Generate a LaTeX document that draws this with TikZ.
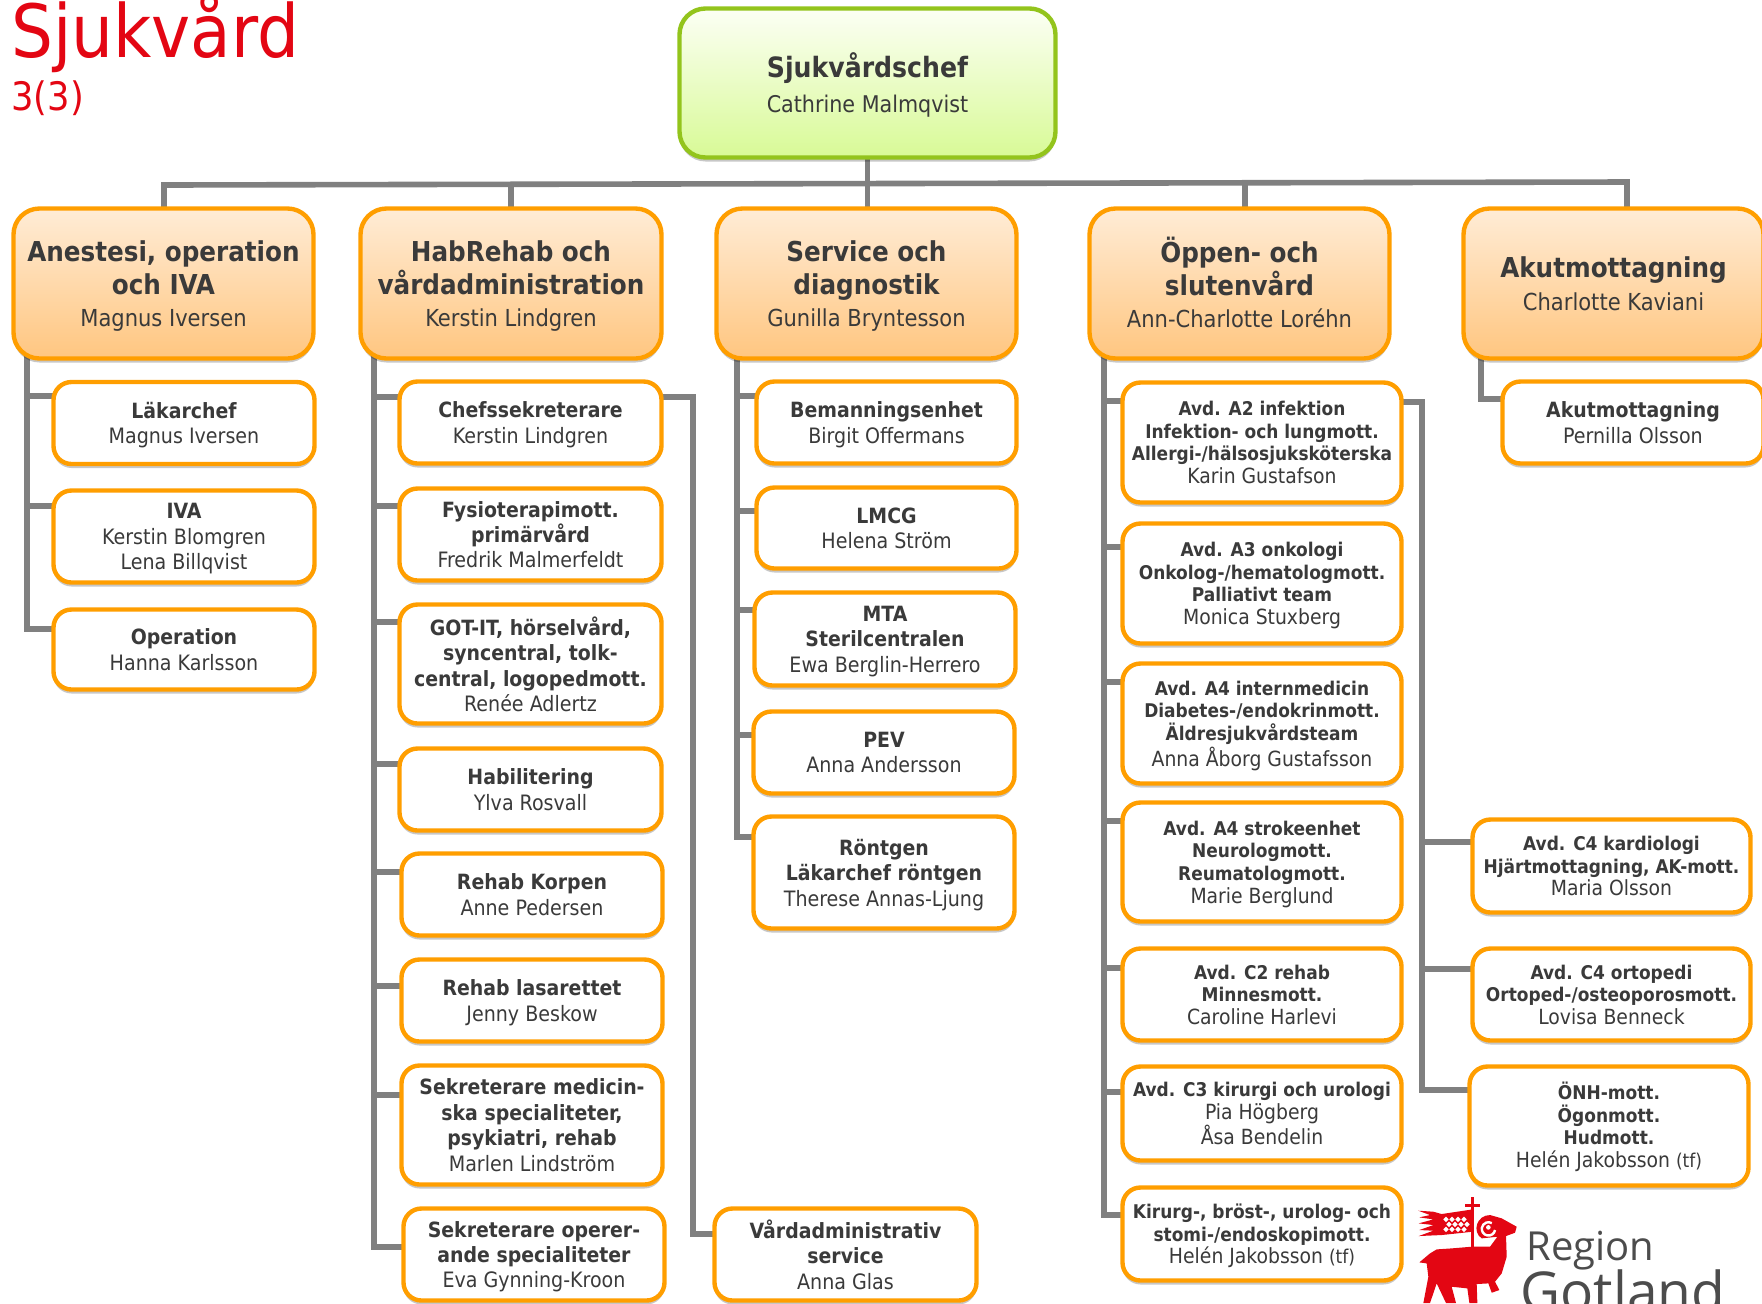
\documentclass[tikz,border=0pt]{standalone}
\usepackage{fontspec}
\usepackage{xcolor}
\setmainfont{DejaVu Sans Condensed}
\newfontfamily\logofont{Open Sans}
\usetikzlibrary{shadows,backgrounds}
\definecolor{myorange}{HTML}{FF9E00}
\definecolor{mygreen}{HTML}{93C41C}
\definecolor{mygray}{HTML}{808080}
\definecolor{mytext}{HTML}{3A3A3A}
\definecolor{myred}{HTML}{E30613}
\newcommand{\hdname}[1]{{\mdseries\fontsize{11.7}{14}\selectfont #1}}
\newcommand{\nm}[1]{{\mdseries\fontsize{10.6}{12}\selectfont #1}}
\newcommand{\sm}[1]{{\mdseries\fontsize{10.45}{12}\selectfont #1}}
\newcommand{\tf}{{\fontsize{9.5}{10}\selectfont (tf)}}

\begin{document}
\begin{tikzpicture}[
    x=0.5pt, y=-0.5pt,
    boxsize/.style 2 args={
    minimum width={(#1-3)*0.5pt},
    minimum height={(#2-3)*0.5pt}},
    myshadow/.style={
    general shadow={shadow xshift=0pt, shadow yshift=-2pt, fill=black, opacity=0.22}},
    mytop/.style={
    rounded corners=13pt,
    draw=mygreen,
    line width=2.2pt,
    top color=green!30!yellow!4,
    bottom color={rgb,255:red,216;green,250;blue,150},
    myshadow,
    align=center,
    inner sep=0pt,
    text=mytext,
    text depth=0.3pt,
    font=\fontsize{14}{17.4}\selectfont\bfseries},
    myhead/.style={
    rounded corners=13pt,
    draw=myorange,
    line width=2.2pt,
    top color={rgb,255:red,255;green,236;blue,214},
    bottom color={rgb,255:red,255;green,198;blue,128},
    myshadow,
    align=center,
    inner sep=0pt,
    text=mytext,
    text depth=-0.6pt,
    font=\fontsize{13.7}{16.8}\selectfont\bfseries},
    mysub/.style={
    rounded corners=9pt,
    draw=myorange,
    fill=white,
    line width=2.2pt,
    myshadow,
    align=center,
    inner sep=0pt,
    text=mytext,
    text depth=-0.7pt,
    font=\fontsize{10.5}{12.7}\selectfont\bfseries},
    mysmall/.style={
    mysub,
    text depth=0pt,
    font=\fontsize{9.45}{11.3}\selectfont\bfseries},
    mylink/.style={draw=mygray, line width=2.8pt}
    ]
    \clip (0,0) rectangle (1762,1303);

    \node[anchor=base west, text=myred, inner sep=0pt, font=\fontsize{36.7}{38}\selectfont] (title) at (11,57) {Sjukvård};
    \node[anchor=base west, text=myred, inner sep=0pt, font=\fontsize{19.6}{20}\selectfont] (page) at (11,110) {3(3)};

    % chief and division heads
    \node[mytop, boxsize={379}{152}] (top) at (867.5,83) {Sjukvårdschef\\\fontsize{11.5}{17.4}\selectfont\mdseries Cathrine Malmqvist};
    \node[myhead, boxsize={303}{153}] (h1) at (163.5,283.5) {Anestesi, operation\\och IVA\\[-1pt]\hdname{Magnus Iversen}};
    \node[myhead, boxsize={304}{153}] (h2) at (511,283.5) {HabRehab och\\vårdadministration\\[-1pt]\hdname{Kerstin Lindgren}};
    \node[myhead, boxsize={303}{153}] (h3) at (866.5,283.5) {Service och\\diagnostik\\[-1pt]\hdname{Gunilla Bryntesson}};
    \node[myhead, boxsize={303}{153}, text depth=1.6pt] (h4) at (1239.5,283.5) {Öppen- och\\slutenvård\\[-1pt]\hdname{Ann-Charlotte Loréhn}};
    \node[myhead, boxsize={303}{153}] (h5) at (1613.5,283.5) {Akutmottagning\\\hdname{Charlotte Kaviani}};

    \node[mysub, boxsize={264}{85}] (a1) at (184,423) {Läkarchef\\\nm{Magnus Iversen}};
    \node[mysub, boxsize={264}{95}] (a2) at (184,536.5) {IVA\\\nm{Kerstin Blomgren}\\\nm{Lena Billqvist}};
    \node[mysub, boxsize={264}{83}] (a3) at (184,649.5) {Operation\\\nm{Hanna Karlsson}};

    \node[mysub, boxsize={265}{85}] (b1) at (530.5,422.5) {Chefssekreterare\\\nm{Kerstin Lindgren}};
    \node[mysub, boxsize={265}{95}] (b2) at (530.5,534.5) {Fysioterapimott.\\primärvård\\\nm{Fredrik Malmerfeldt}};
    \node[mysub, boxsize={265}{122}] (b3) at (530.5,664) {GOT-IT, hörselvård,\\syncentral, tolk-\\central, logopedmott.\\\nm{Renée Adlertz}};
    \node[mysub, boxsize={265}{85}] (b4) at (530.5,789.5) {Habilitering\\\nm{Ylva Rosvall}};
    \node[mysub, boxsize={264}{85}] (b5) at (532,894.5) {Rehab Korpen\\\nm{Anne Pedersen}};
    \node[mysub, boxsize={264}{85}] (b6) at (532,1000.5) {Rehab lasarettet\\\nm{Jenny Beskow}};
    \node[mysub, boxsize={264}{122}] (b7) at (532,1125) {Sekreterare medicin-\\ska specialiteter,\\psykiatri, rehab\\\nm{Marlen Lindström}};
    \node[mysub, boxsize={264}{95}] (b8) at (534,1254.5) {Sekreterare operer-\\ande specialiteter\\\nm{Eva Gynning-Kroon}};
    \node[mysub, boxsize={265}{95}] (b9) at (845.5,1254.5) {Vårdadministrativ\\service\\\nm{Anna Glas}};

    \node[mysub, boxsize={263}{85}] (c1) at (886.5,422.5) {Bemanningsenhet\\\nm{Birgit Offermans}};
    \node[mysub, boxsize={263}{84}] (c2) at (886.5,528) {LMCG\\\nm{Helena Ström}};
    \node[mysub, boxsize={264}{96}] (c3) at (885,639) {MTA\\Sterilcentralen\\\nm{Ewa Berglin-Herrero}};
    \node[mysub, boxsize={264}{85}] (c4) at (884,752.5) {PEV\\\nm{Anna Andersson}};
    \node[mysub, boxsize={264}{115}] (c5) at (884,872.5) {Röntgen\\Läkarchef röntgen\\\nm{Therese Annas-Ljung}};

    \node[mysmall, boxsize={282}{123}] (d1) at (1262,442.5) {Avd. A2 infektion\\Infektion- och lungmott.\\Allergi-/hälsosjuksköterska\\\sm{Karin Gustafson}};
    \node[mysmall, boxsize={282}{123}] (d2) at (1262,583.5) {Avd. A3 onkologi\\Onkolog-/hematologmott.\\Palliativt team\\\sm{Monica Stuxberg}};
    \node[mysmall, boxsize={282}{123}] (d3) at (1262,723.5) {Avd. A4 internmedicin\\Diabetes-/endokrinmott.\\Äldresjukvårdsteam\\\sm{Anna Åborg Gustafsson}};
    \node[mysmall, boxsize={282}{122}] (d4) at (1262,862) {Avd. A4 strokeenhet\\Neurologmott.\\Reumatologmott.\\\sm{Marie Berglund}};
    \node[mysmall, boxsize={282}{95}] (d5) at (1262,994.5) {Avd. C2 rehab\\Minnesmott.\\\sm{Caroline Harlevi}};
    \node[mysmall, boxsize={282}{97}] (d6) at (1262,1113.5) {Avd. C3 kirurgi och urologi\\\sm{Pia Högberg}\\\sm{Åsa Bendelin}};
    \node[mysmall, boxsize={282}{96}] (d7) at (1262,1234) {Kirurg-, bröst-, urolog- och\\stomi-/endoskopimott.\\\sm{Helén Jakobsson \tf}};

    \node[mysub, boxsize={264}{85}] (e1) at (1633,422.5) {Akutmottagning\\\nm{Pernilla Olsson}};
    \node[mysmall, boxsize={281}{96}] (e2) at (1611.5,866) {Avd. C4 kardiologi\\Hjärtmottagning, AK-mott.\\\sm{Maria Olsson}};
    \node[mysmall, boxsize={281}{95}] (e3) at (1611.5,994.5) {Avd. C4 ortopedi\\Ortoped-/osteoporosmott.\\\sm{Lovisa Benneck}};
    \node[mysmall, boxsize={282}{122}, text depth=1.2pt] (e4) at (1609,1126) {ÖNH-mott.\\Ögonmott.\\Hudmott.\\\sm{Helén Jakobsson \tf}};

    % connectors sit behind the boxes
    \begin{scope}[on background layer]
    \coordinate (barleft) at (164,185);
    \coordinate (barright) at (1627,182);
    \draw[mylink] (h1.center -| barleft) -- (barleft) -- (barright) -- (h5.center -| barright);
    \draw[mylink] (top.center) -- (h3.center -| top.center);
    \draw[mylink] (h2.center) -- (h2.center |- 0,184);
    \draw[mylink] (h4.center -| 1245,0) -- (1245,184);

    \foreach \n/\y in {a1/396,a2/506,a3/629}
        \draw[mylink] (h1.center -| 27,0) |- (\n.center |- 0,\y);
    \foreach \n/\y in {b1/397,b2/506,b3/622,b4/764,b5/872,b6/986,b7/1095,b8/1247}
        \draw[mylink] (h2.center -| 374,0) |- (\n.center |- 0,\y);
    \foreach \n/\y in {c1/396,c2/511,c3/610,c4/735,c5/837}
        \draw[mylink] (h3.center -| 737,0) |- (\n.center |- 0,\y);
    \foreach \n/\y in {d1/401,d2/547,d3/682,d4/821,d5/968,d6/1092,d7/1215}
        \draw[mylink] (h4.center -| 1104,0) |- (\n.center |- 0,\y);
    \draw[mylink] (h5.center -| 1481,0) |- (e1.center |- 0,399);

    \draw[mylink] (b1.center |- 0,397) -| (693,1234) -- (b9.center |- 0,1234);
    \foreach \n/\y in {e2/842,e3/969,e4/1090}
        \draw[mylink] (d1.center |- 0,402) -| (1422,\y) -- (\n.center |- 0,\y);
    \end{scope}

    % logo
    \begin{scope}[shift={(1380,1100)}, x=0.1667pt, y=-0.1667pt]
    \fill[myred] (273,292) rectangle (283,440);
    \fill[myred] (255,311) rectangle (300,320);
    \fill[myred] (278,328) -- (185,342) -- (160,335) -- (115,332) -- (150,345) -- (118,352)
        -- (160,358) -- (116,370) -- (160,375) -- (118,390) -- (160,392) -- (116,408)
        -- (185,405) -- (278,395) -- cycle;
    \foreach \x in {198,216,234,252}
        \foreach \y in {358,388}
            \fill[white] (\x,\y-8) -- (\x+8,\y) -- (\x,\y+8) -- (\x-8,\y) -- cycle;
    \foreach \x in {207,225,243,261}
        \fill[white] (\x,365) -- (\x+8,373) -- (\x,381) -- (\x-8,373) -- cycle;
    \fill[myred] (118,487) -- (150,460) -- (170,448) -- (215,445) -- (275,440) -- (330,440)
        -- (352,410) -- (305,415) .. controls (275,395) and (290,345) .. (330,345)
        -- (365,355) -- (410,380) -- (405,398) -- (378,408) -- (380,470) -- (365,520)
        -- (345,545) -- (358,570) -- (335,578) -- (325,550) -- (290,552) -- (292,609)
        -- (268,609) -- (262,565) -- (215,560) -- (228,609) -- (198,609) -- (170,550)
        -- (150,609) -- (130,609) -- (145,530) -- (140,490) -- cycle;
    \draw[white, line width=1.2pt] (345,390) arc[start angle=10, end angle=300, radius=20];
    \fill[white] (325,382) circle[radius=7];
    \end{scope}
    \node[anchor=base west, inner sep=0pt, text=black!70, font=\logofont\fontsize{20}{20}\selectfont] (region) at (1526,1260) {Region};
    \node[anchor=base west, inner sep=0pt, text=black!70, font=\logofont\fontsize{27.5}{28}\selectfont] (gotland) at (1520,1311) {Gotland};
\end{tikzpicture}
\end{document}
